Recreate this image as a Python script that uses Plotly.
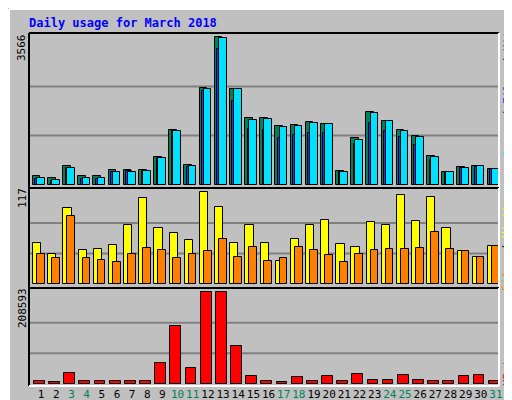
import plotly.graph_objects as go

days = list(range(1, 32))
hits_max, visits_max, kb_max = 3566, 117, 208593
# values
hits = [202, 162, 444, 202, 202, 347, 347, 347, 662, 1315, 468, 2340, 3566, 2316, 1606, 1606,
        1413, 1437, 1510, 1461, 323, 1123, 1751, 1534, 1315, 1171, 686, 299, 420, 444, 371]
files = [145, 97, 395, 145, 145, 307, 323, 323, 638, 1292, 420, 2260, 3275, 2018, 1346, 1322,
         1123, 1203, 1244, 1244, 299, 976, 1485, 1292, 1147, 954, 589, 299, 395, 420, 371]
pages = [162, 113, 395, 162, 162, 307, 307, 331, 638, 1292, 444, 2316, 3542, 2316, 1557, 1582,
         1389, 1413, 1485, 1461, 299, 1074, 1727, 1534, 1292, 1147, 662, 299, 395, 444, 371]
visits = [53, 38, 97, 43, 45, 50, 75, 110, 72, 65, 56, 117, 98, 53, 76, 53,
          29, 58, 76, 82, 51, 47, 79, 75, 113, 80, 111, 72, 42, 35, 49]
sites = [38, 33, 87, 33, 31, 28, 38, 46, 44, 33, 38, 42, 58, 35, 47, 29,
         33, 47, 44, 37, 28, 38, 44, 45, 45, 46, 67, 45, 42, 35, 49]
kbytes = [6090, 3040, 24360, 6090, 6090, 6090, 6090, 6090, 47200, 131800, 35000, 208593, 208593, 85300, 16750, 6090,
          3040, 14460, 6090, 16750, 6090, 21300, 8370, 8370, 19030, 8370, 6090, 6090, 16750, 19030, 6090]
weekend = {3, 4, 10, 11, 17, 18, 24, 25, 31}

BG = "#c0c0c0"
L, R, T, B = 21, 491, 25, 378
def px(x): return (x - L) / (R - L)
def py(y): return (B - y) / (B - T)

fig = go.Figure()
line = dict(color="black", width=1)
def bar(y, color, axis, off, w):
    fig.add_trace(go.Bar(x=days, y=y, marker=dict(color=color, line=line), offset=off, width=w,
                         xaxis="x", yaxis=axis, showlegend=False, hoverinfo="skip"))

bar(hits, "#00805c", "y", -0.55, 0.5)
bar(files, "#0040ff", "y", -0.38, 0.35)
bar(pages, "#00e0ff", "y", -0.27, 0.5)
bar(visits, "#ffff00", "y2", -0.53, 0.54)
bar(sites, "#ff8000", "y2", -0.27, 0.51)
bar(kbytes, "#ff0000", "y3", -0.47, 0.71)

shapes, ann = [], []
for ax, mx in (("y", hits_max), ("y2", visits_max), ("y3", kb_max)):
    for f in (1/3, 2/3):
        shapes.append(dict(type="line", xref="paper", yref=ax, x0=0, x1=1, y0=mx*f, y1=mx*f,
                           line=dict(color="#808080", width=2), layer="below"))
for top, bot in ((25, 180), (180, 280), (280, 378)):
    shapes.append(dict(type="line", xref="paper", yref="paper", x0=0, x1=1, y0=py(top), y1=py(top), line=dict(color="black", width=2)))
    shapes.append(dict(type="line", xref="paper", yref="paper", x0=0, x1=0, y0=py(top), y1=py(bot), line=dict(color="black", width=2)))
    shapes.append(dict(type="line", xref="paper", yref="paper", x0=1, x1=1, y0=py(top), y1=py(bot), line=dict(color="white", width=2)))
    shapes.append(dict(type="line", xref="paper", yref="paper", x0=0, x1=1, y0=py(bot), y1=py(bot), line=dict(color="white", width=2)))
shapes.append(dict(type="line", xref="paper", yref="paper", x0=px(1), x1=px(509), y0=py(1), y1=py(1), line=dict(color="white", width=2)))
shapes.append(dict(type="line", xref="paper", yref="paper", x0=px(1), x1=px(1), y0=py(1), y1=py(398), line=dict(color="white", width=2)))
shapes.append(dict(type="line", xref="paper", yref="paper", x0=px(509), x1=px(509), y0=py(3), y1=py(398), line=dict(color="#808080", width=5)))
shapes.append(dict(type="line", xref="paper", yref="paper", x0=px(3), x1=px(509), y0=py(397), y1=py(397), line=dict(color="#808080", width=5)))

mono = "DejaVu Sans Mono"
ann.append(dict(text="<b>Daily usage for March 2018</b>", x=px(19), y=py(15), xref="paper", yref="paper",
                xanchor="left", yanchor="middle", showarrow=False, font=dict(family=mono, size=12, color="#0000ff")))
for txt, ypix in (("3566", 40), ("117", 190), ("208593", 300)):
    ann.append(dict(text=txt, x=px(14), y=py(ypix), xref="paper", yref="paper", textangle=-90,
                    xanchor="center", yanchor="middle", showarrow=False, font=dict(family=mono, size=11, color="black")))
ann.append(dict(text="<span style='color:#00e0ff'>Pages</span> / <span style='color:#0040ff'>Files</span> / <span style='color:#00805c'>Hits</span>",
                x=px(499), y=py(83), xref="paper", yref="paper", textangle=-90, xanchor="center", yanchor="middle",
                showarrow=False, font=dict(family=mono, size=11, color="black")))
ann.append(dict(text="<span style='color:#ff8000'>Sites</span> / <span style='color:#ffff00'>Visits</span>",
                x=px(499), y=py(237), xref="paper", yref="paper", textangle=-90, xanchor="center", yanchor="middle",
                showarrow=False, font=dict(family=mono, size=11, color="black")))
ann.append(dict(text="KBytes", x=px(499), y=py(358), xref="paper", yref="paper", textangle=-90, xanchor="center",
                yanchor="middle", showarrow=False, font=dict(family=mono, size=11, color="#ff0000")))

ticktext = [f"<span style='color:{'#00805c' if d in weekend else 'black'}'>{d}</span>" for d in days]

fig.update_layout(
    width=512, height=400, autosize=False, margin=dict(l=L, r=512 - R, t=T, b=400 - B, pad=0),
    paper_bgcolor=BG, plot_bgcolor=BG, barmode="overlay", bargap=0,
    shapes=shapes, annotations=ann,
    xaxis=dict(range=[0.2, 31.2], tickvals=days, ticktext=ticktext, showgrid=False, zeroline=False,
               ticks="", tickangle=0, automargin=False, tickfont=dict(family=mono, size=11), anchor="y3"),
    yaxis=dict(domain=[py(180), 1], range=[-80, 3670], visible=False, automargin=False),
    yaxis2=dict(domain=[py(280), py(180)], range=[-4.7, 122.4], visible=False, automargin=False),
    yaxis3=dict(domain=[0, py(280)], range=[-5250, 218400], visible=False, automargin=False),
)
fig.write_html("out.html")
